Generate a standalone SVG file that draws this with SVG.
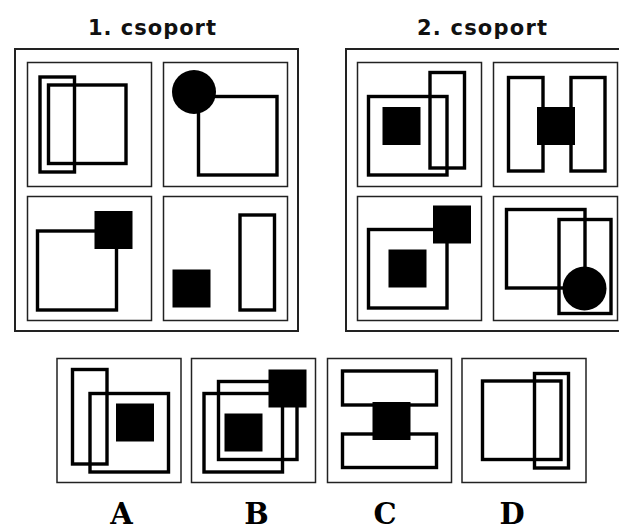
<svg xmlns="http://www.w3.org/2000/svg" width="619" height="531" viewBox="0 0 619 531">
<style>
.bg{fill:#fff}
.outer{fill:none;stroke:#222;stroke-width:2}
.cell{fill:none;stroke:#222;stroke-width:1.5}
.o{fill:none;stroke:#000;stroke-width:3.4}
.f{fill:#000}
.title{font-family:"DejaVu Sans",Verdana,sans-serif;font-weight:bold;font-size:21px;fill:#111;text-anchor:middle}
.lab{font-family:"DejaVu Serif","Liberation Serif",serif;font-weight:bold;font-size:29px;fill:#000;text-anchor:middle}
</style>
<rect class="bg" x="0" y="0" width="619" height="531"/>

<g id="group1">
  <text class="title" x="152" y="35" textLength="128" lengthAdjust="spacing">1. csoport</text>
  <rect class="outer" x="15" y="49" width="283" height="282"/>
  <g id="g1-tl">
    <rect class="cell" x="27.5" y="62.5" width="124" height="124"/>
    <rect class="o" x="40" y="77" width="34.5" height="95"/>
    <rect class="o" x="48.5" y="85" width="77.5" height="78.5"/>
  </g>
  <g id="g1-tr">
    <rect class="cell" x="163.5" y="62.5" width="124" height="124"/>
    <rect class="o" x="198.5" y="96.5" width="78.5" height="78.5"/>
    <circle class="f" cx="194" cy="92" r="22"/>
  </g>
  <g id="g1-bl">
    <rect class="cell" x="27.5" y="196.5" width="124" height="124"/>
    <rect class="o" x="37.5" y="231" width="79" height="79"/>
    <rect class="f" x="94.5" y="211" width="38" height="38"/>
  </g>
  <g id="g1-br">
    <rect class="cell" x="163.5" y="196.5" width="124" height="124"/>
    <rect class="f" x="172.5" y="269.5" width="38" height="38"/>
    <rect class="o" x="240" y="215" width="34.5" height="95"/>
  </g>
</g>

<g id="group2">
  <text class="title" x="482" y="35" textLength="130" lengthAdjust="spacing">2. csoport</text>
  <rect class="outer" x="346" y="49" width="283" height="282"/>
  <g id="g2-tl">
    <rect class="cell" x="357.5" y="62.5" width="124" height="124"/>
    <rect class="o" x="368.5" y="96.5" width="78.5" height="78.5"/>
    <rect class="o" x="430" y="72.5" width="34.5" height="95.5"/>
    <rect class="f" x="382.5" y="107" width="38" height="38"/>
  </g>
  <g id="g2-tr">
    <rect class="cell" x="493.5" y="62.5" width="124" height="124"/>
    <rect class="o" x="508.5" y="77.5" width="34.5" height="93.5"/>
    <rect class="o" x="571" y="77.5" width="34" height="93.5"/>
    <rect class="f" x="537" y="107" width="38" height="38"/>
  </g>
  <g id="g2-bl">
    <rect class="cell" x="357.5" y="196.5" width="124" height="124"/>
    <rect class="o" x="368.5" y="229.5" width="78.5" height="78.5"/>
    <rect class="f" x="433" y="205.5" width="38" height="38"/>
    <rect class="f" x="388.5" y="249.5" width="38" height="38"/>
  </g>
  <g id="g2-br">
    <rect class="cell" x="493.5" y="196.5" width="124" height="124"/>
    <rect class="o" x="506.5" y="209.5" width="78.5" height="78.5"/>
    <rect class="o" x="559" y="219.5" width="52" height="94"/>
    <circle class="f" cx="584.5" cy="288.5" r="22"/>
  </g>
</g>

<g id="answers">
  <g id="opt-a">
    <rect class="cell" x="57" y="358.5" width="124" height="124"/>
    <rect class="o" x="72.5" y="369.5" width="34.5" height="94.5"/>
    <rect class="o" x="90" y="393.5" width="78.5" height="78.5"/>
    <rect class="f" x="116" y="403.5" width="38" height="38"/>
    <text class="lab" x="121.5" y="523.5">A</text>
  </g>
  <g id="opt-b">
    <rect class="cell" x="191.5" y="358.5" width="124" height="124"/>
    <rect class="o" x="204" y="393.5" width="78.5" height="78.5"/>
    <rect class="o" x="218.5" y="381.5" width="78.5" height="78"/>
    <rect class="f" x="268.5" y="369.5" width="38" height="38"/>
    <rect class="f" x="224.5" y="413.5" width="38" height="38"/>
    <text class="lab" x="256.5" y="523.5">B</text>
  </g>
  <g id="opt-c">
    <rect class="cell" x="327.5" y="358.5" width="124" height="124"/>
    <rect class="o" x="342.5" y="371" width="94" height="34"/>
    <rect class="o" x="342.5" y="434" width="94" height="33.5"/>
    <rect class="f" x="372.5" y="402" width="38" height="38"/>
    <text class="lab" x="385" y="523.5">C</text>
  </g>
  <g id="opt-d">
    <rect class="cell" x="462" y="358.5" width="124" height="124"/>
    <rect class="o" x="482.5" y="381" width="78.5" height="78.5"/>
    <rect class="o" x="534.5" y="373.5" width="34" height="94.5"/>
    <text class="lab" x="512" y="523.5">D</text>
  </g>
</g>
</svg>
